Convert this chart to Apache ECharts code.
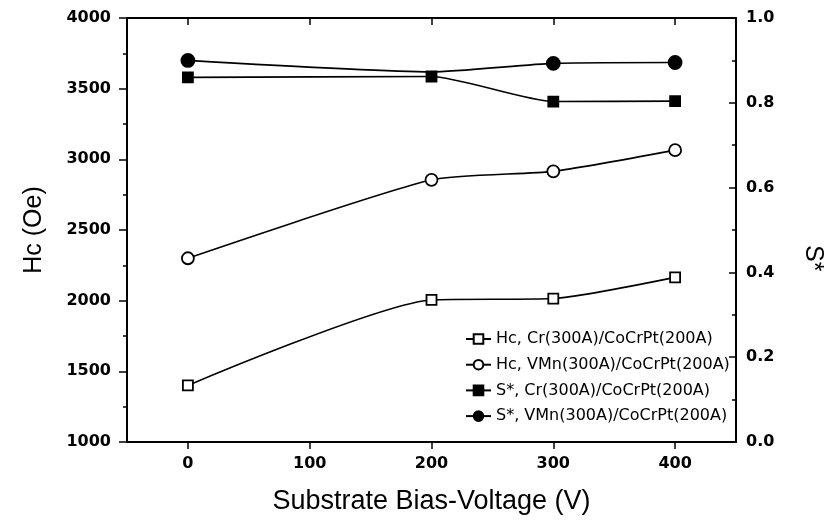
<!DOCTYPE html>
<html>
<head>
<meta charset="utf-8">
<script src="https://cdn.jsdelivr.net/npm/echarts@6/dist/echarts.min.js"></script>
<style>html,body{margin:0;padding:0;background:#fff;}#c{width:827px;height:522px;}</style>
</head>
<body>
<div id="c"></div>
<script>
var xValues = [0, 200, 300, 400];
var hcCr = [1400, 2005, 2015, 2165];
var hcVMn = [2300, 2855, 2915, 3065];
var sCr = [0.860, 0.862, 0.803, 0.804];
var sVMn = [0.900, 0.873, 0.893, 0.895];
var sVMnHidden = [false, true, false, false];
var xTicks = [0, 100, 200, 300, 400];
var seriesNames = [
  'Hc, Cr(300A)/CoCrPt(200A)',
  'Hc, VMn(300A)/CoCrPt(200A)',
  'S*, Cr(300A)/CoCrPt(200A)',
  'S*, VMn(300A)/CoCrPt(200A)'
];

function pairs(ys, hidden){
  return xValues.map(function(x,i){
    var d = {value: [x, ys[i]]};
    if (hidden && hidden[i]) d.symbol = 'none';
    return d;
  });
}

var lib = 'Liberation Sans, Arial, sans-serif';
var dv = 'DejaVu Sans, sans-serif';
var chart = echarts.init(document.getElementById('c'));

function mk(name, data, yIdx, symbol, filled, size, z){
  return {
    name: name, type: 'line', data: data, yAxisIndex: yIdx,
    smooth: 0.2, symbol: symbol, symbolSize: size, showSymbol: true,
    lineStyle: {color: '#000', width: 1.6},
    itemStyle: {color: filled ? '#000' : '#fff', borderColor: '#000', borderWidth: 1.8, opacity: 1},
    emphasis: {disabled: true}, z: z
  };
}
var tickStyle = {color: '#000', width: 1.5};
var axLine = {show: true, onZero: false, lineStyle: {color: '#000', width: 2}};
var tickLabel = {fontFamily: dv, fontSize: 16, fontWeight: 'bold', color: '#000'};

chart.setOption({
  animation: false,
  backgroundColor: '#fff',
  grid: {left: 127, right: 91, top: 18, bottom: 80},
  legend: {
    orient: 'vertical', left: 460, top: 326, itemGap: 9.7,
    itemWidth: 25, itemHeight: 12,
    textStyle: {fontFamily: dv, fontSize: 16, lineHeight: 16, color: '#000'},
    data: seriesNames
  },
  graphic: [{
    type: 'text', left: 800, top: 245, rotation: -Math.PI / 2,
    style: {text: 'S*', fontFamily: lib, fontSize: 25, fill: '#000'}
  }],
  xAxis: [{
    type: 'value', min: -50, max: 450, interval: 100,
    name: 'Substrate Bias-Voltage (V)', nameLocation: 'middle', nameGap: 46,
    nameTextStyle: {fontFamily: lib, fontSize: 27, color: '#000'},
    axisLine: axLine,
    axisTick: {show: true, inside: false, length: 7, lineStyle: tickStyle, customValues: xTicks},
    minorTick: {show: true, splitNumber: 2, length: 4, lineStyle: tickStyle},
    axisLabel: Object.assign({margin: 14, customValues: xTicks}, tickLabel),
    splitLine: {show: false}
  }, {
    type: 'value', min: -50, max: 450, interval: 100, position: 'top',
    axisLine: axLine,
    axisTick: {show: true, inside: true, length: 7, lineStyle: tickStyle, customValues: xTicks},
    minorTick: {show: true, splitNumber: 2, length: 4, lineStyle: tickStyle},
    axisLabel: {show: false}, splitLine: {show: false}
  }],
  yAxis: [{
    type: 'value', min: 1000, max: 4000, interval: 500,
    name: 'Hc (Oe)', nameLocation: 'middle', nameGap: 80,
    nameTextStyle: {fontFamily: lib, fontSize: 25, color: '#000'},
    axisLine: axLine,
    axisTick: {show: true, inside: false, length: 8, lineStyle: tickStyle},
    minorTick: {show: true, splitNumber: 2, length: 4, lineStyle: tickStyle},
    axisLabel: Object.assign({margin: 16, formatter: function(v){ return String(v); }}, tickLabel),
    splitLine: {show: false}
  }, {
    type: 'value', min: 0, max: 1.0, interval: 0.2, position: 'right',
    axisLine: axLine,
    axisTick: {show: true, inside: true, length: 7, lineStyle: tickStyle},
    minorTick: {show: true, splitNumber: 2, length: 4, lineStyle: tickStyle},
    axisLabel: Object.assign({margin: 10, formatter: function(v){ return v.toFixed(1); }}, tickLabel),
    splitLine: {show: false}
  }],
  series: [
    mk(seriesNames[0], pairs(hcCr), 0, 'rect', false, 10, 3),
    mk(seriesNames[1], pairs(hcVMn), 0, 'circle', false, 12, 3),
    mk(seriesNames[2], pairs(sCr), 1, 'rect', true, 10, 5),
    mk(seriesNames[3], pairs(sVMn, sVMnHidden), 1, 'circle', true, 13, 4)
  ]
});
</script>
</body>
</html>
